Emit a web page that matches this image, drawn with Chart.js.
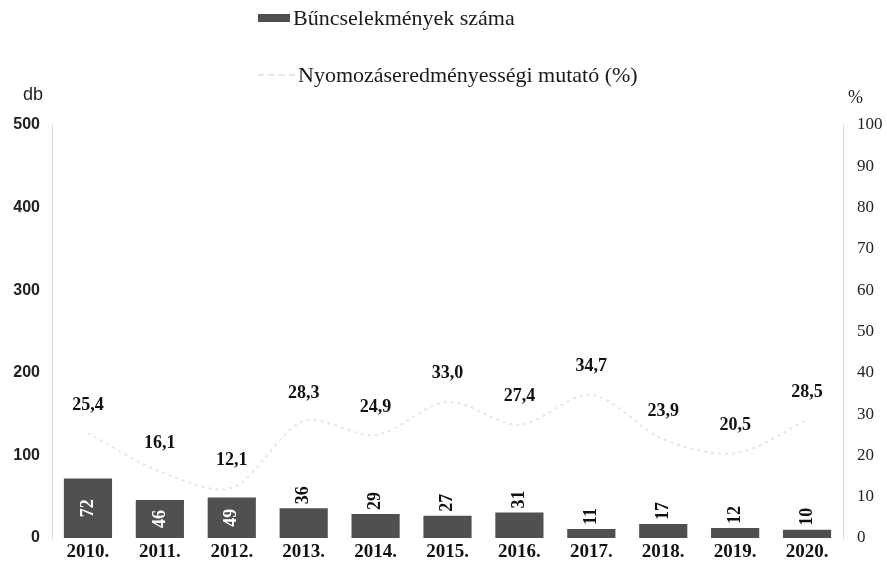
<!DOCTYPE html>
<html>
<head>
<meta charset="utf-8">
<script src="https://cdn.jsdelivr.net/npm/chart.js@4"></script>
<style>
  html, body { margin: 0; padding: 0; background: #fff; }
  #wrap { position: relative; width: 887px; height: 571px; }
  #legend { position: absolute; left: 258px; top: 0; font-family: "Liberation Serif", serif; font-size: 22px; color: #1a1a1a; }
  .item { position: absolute; left: 0; white-space: nowrap; display: flex; align-items: center; }
  .swatch { display: inline-block; width: 32px; height: 8px; margin-right: 3px; }
</style>
</head>
<body>
<div id="wrap">
  <canvas id="chart" width="887" height="571"></canvas>
  <div id="legend"></div>
</div>
<script>
  const years = ['2010.', '2011.', '2012.', '2013.', '2014.', '2015.', '2016.', '2017.', '2018.', '2019.', '2020.'];
  const crimeCounts = [72, 46, 49, 36, 29, 27, 31, 11, 17, 12, 10];
  const clearanceRate = [25.4, 16.1, 12.1, 28.3, 24.9, 33.0, 27.4, 34.7, 23.9, 20.5, 28.5];
  const leftTicks = [0, 100, 200, 300, 400, 500];
  const rightTicks = [0, 10, 20, 30, 40, 50, 60, 70, 80, 90, 100];

  const fmt = v => v.toFixed(1).replace('.', ',');

  // draws value labels, axis unit labels
  const labelPlugin = {
    id: 'labels',
    afterDatasetsDraw(chart) {
      const ctx = chart.ctx;
      ctx.save();
      // line labels
      const lineMeta = chart.getDatasetMeta(1);
      ctx.fillStyle = '#111';
      ctx.font = 'bold 18px "Liberation Serif", serif';
      ctx.textAlign = 'center';
      ctx.textBaseline = 'middle';
      lineMeta.data.forEach((pt, i) => {
        ctx.fillText(fmt(clearanceRate[i]), pt.x, pt.y - 28);
      });
      // bar labels
      const barMeta = chart.getDatasetMeta(0);
      ctx.font = 'bold 18px "Liberation Serif", serif';
      barMeta.data.forEach((bar, i) => {
        const h = bar.base - bar.y;
        ctx.save();
        if (h >= 35) {
          ctx.translate(bar.x, (bar.y + bar.base) / 2);
          ctx.rotate(-Math.PI / 2);
          ctx.textAlign = 'center';
          ctx.fillStyle = '#fff';
        } else {
          ctx.translate(bar.x, bar.y - 4);
          ctx.rotate(-Math.PI / 2);
          ctx.textAlign = 'left';
          ctx.fillStyle = '#111';
        }
        ctx.textBaseline = 'middle';
        ctx.fillText(String(crimeCounts[i]), 0, 0);
        ctx.restore();
      });
      // unit labels
      ctx.fillStyle = '#222';
      ctx.textAlign = 'left';
      ctx.textBaseline = 'middle';
      ctx.font = '18px "Liberation Sans", sans-serif';
      ctx.fillText('db', 23, 95);
      ctx.font = '18px "Liberation Serif", serif';
      ctx.fillText('%', 848, 98);
      ctx.restore();
    }
  };

  const chart = new Chart(document.getElementById('chart'), {
    data: {
      labels: years,
      datasets: [
        {
          type: 'bar',
          label: 'Bűncselekmények száma',
          data: crimeCounts,
          yAxisID: 'y',
          backgroundColor: '#505050',
          barPercentage: 0.67,
          categoryPercentage: 1,
          order: 2
        },
        {
          type: 'line',
          label: 'Nyomozáseredményességi mutató (%)',
          data: clearanceRate,
          yAxisID: 'y1',
          borderColor: '#e6e6e6',
          borderWidth: 2,
          borderDash: [3, 4],
          pointRadius: 0,
          tension: 0.3,
          order: 1
        }
      ]
    },
    options: {
      responsive: false,
      animation: false,
      layout: { padding: { top: 125, left: 0, right: 0, bottom: 0 } },
      plugins: { legend: { display: false }, tooltip: { enabled: false } },
      scales: {
        x: {
          grid: { display: false, drawTicks: false },
          border: { display: false },
          ticks: { color: '#111', padding: 3, font: { family: '"Liberation Serif", serif', size: 19, weight: 'bold' } },
          afterFit: s => { s.height = 33; }
        },
        y: {
          position: 'left',
          min: 0, max: 500,
          afterBuildTicks: s => { s.ticks = leftTicks.map(v => ({ value: v })); },
          grid: { display: false, drawTicks: false },
          border: { display: true, color: '#d8d8d8', dash: [2, 3] },
          ticks: { color: '#222', padding: 12, font: { family: '"Liberation Sans", sans-serif', size: 16, weight: 'bold' } },
          afterFit: s => { s.width = 52; }
        },
        y1: {
          position: 'right',
          min: 0, max: 100,
          afterBuildTicks: s => { s.ticks = rightTicks.map(v => ({ value: v })); },
          grid: { display: false, drawTicks: false },
          border: { display: true, color: '#d8d8d8', dash: [2, 3] },
          ticks: { color: '#222', padding: 14, font: { family: '"Liberation Serif", serif', size: 17 } },
          afterFit: s => { s.width = 44; }
        }
      }
    },
    plugins: [labelPlugin]
  });

  // html legend, one item per row
  const legendEl = document.getElementById('legend');
  const rowTops = [5, 62];
  chart.data.datasets.forEach((ds, i) => {
    const item = document.createElement('div');
    item.className = 'item';
    item.style.top = rowTops[i] + 'px';
    const sw = document.createElement('span');
    sw.className = 'swatch';
    if (ds.type === 'bar') {
      sw.style.background = ds.backgroundColor;
    } else {
      sw.style.height = '0';
      sw.style.borderTop = '2px dashed ' + ds.borderColor;
      sw.style.width = '37px';
    }
    item.appendChild(sw);
    item.appendChild(document.createTextNode(ds.label));
    legendEl.appendChild(item);
  });
</script>
</body>
</html>
